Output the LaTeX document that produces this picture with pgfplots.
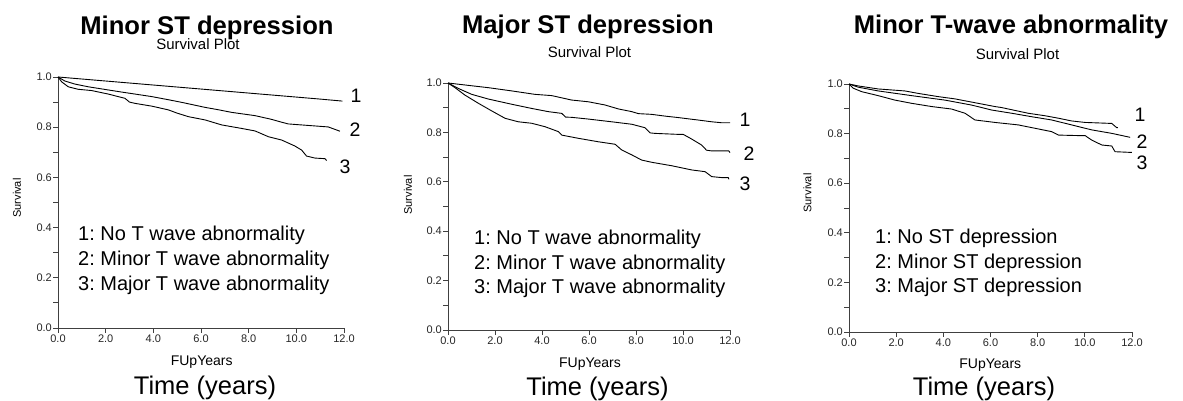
\documentclass[border=0pt]{standalone}
\usepackage{fontspec}
\setmainfont{Liberation Sans}
\usepackage{pgfplots}
\pgfplotsset{compat=1.18}

\pgfplotsset{
  survstyle/.style={
    scale only axis,
    anchor=south west,
    xmin=0, xmax=12, ymin=0, ymax=1,
    axis x line=bottom, axis y line=left,
    axis line style={-, line width=0.9bp, black!75},
    xtick={0,2,...,12},
    ytick={0,0.2,...,1.0},
    minor y tick num=1,
    tick align=outside,
    major tick length=5bp, minor tick length=5bp,
    tick style={line width=0.8bp, black!75},
    /pgf/number format/.cd, fixed, fixed zerofill, precision=1, assume math mode=true,
    /pgfplots/.cd,
    tick label style={font=\fontsize{11bp}{12bp}\selectfont, black!85},
    yticklabel style={inner sep=1bp},
    xticklabel style={inner sep=1bp, yshift=-1bp},
    clip=false,
  },
  km/.style={sharp plot, black, line width=0.9bp, line join=round, mark=none},
}

\newcommand{\titlefont}{\fontsize{25.6bp}{28bp}\selectfont\bfseries}
\newcommand{\subfont}{\fontsize{15bp}{17bp}\selectfont}
\newcommand{\legfont}{\fontsize{20bp}{22bp}\selectfont}
\newcommand{\numfont}{\fontsize{19.5bp}{22bp}\selectfont}
\newcommand{\smallfont}{\fontsize{11bp}{12bp}\selectfont}
\newcommand{\xfont}{\fontsize{14bp}{16bp}\selectfont}
\newcommand{\timefont}{\fontsize{25.5bp}{28bp}\selectfont}
\frenchspacing

\begin{document}
\begin{tikzpicture}
\useasboundingbox (0,0) rectangle (1183bp,401bp);

% ---------------- panel 1: Minor ST depression
\begin{axis}[survstyle, at={(58bp,73bp)}, width=286bp, height=251bp]
\addplot[km] coordinates {
 (0,1.000) (1.0,0.992) (2.0,0.984) (3.0,0.976) (4.0,0.968) (5.0,0.960)
 (6.0,0.952) (7.0,0.944) (8.0,0.936) (9.0,0.928) (10.0,0.920) (11.0,0.912) (11.93,0.904)};
\addplot[km] coordinates {
 (0,1.000) (0.29,0.984) (0.7,0.972) (1.27,0.961) (2.0,0.950) (2.67,0.940) (3.3,0.931)
 (3.93,0.922) (4.6,0.910) (5.19,0.899) (6.17,0.879) (6.7,0.870) (7.29,0.859)
 (8.27,0.846) (8.97,0.831) (9.3,0.822) (9.66,0.813) (10.5,0.807) (11.34,0.801)
 (11.6,0.792) (11.83,0.784)};
\addplot[km] coordinates {
 (0,1.000) (0.15,0.981) (0.43,0.961) (0.85,0.951) (1.41,0.946) (2.11,0.932)
 (2.81,0.915) (3.0,0.900) (3.23,0.895) (3.93,0.884) (4.63,0.869) (5.0,0.856) (5.47,0.842)
 (6.17,0.829) (6.87,0.809) (7.71,0.795) (8.27,0.785) (8.83,0.762) (9.38,0.749)
 (9.94,0.725) (10.22,0.709) (10.43,0.685) (10.78,0.677) (11.13,0.675) (11.2,0.675) (11.27,0.667)};
\end{axis}

% ---------------- panel 2: Major ST depression
\begin{axis}[survstyle, at={(448bp,71bp)}, width=282bp, height=247bp]
\addplot[km] coordinates {
 (0,1.000) (0.72,0.992) (1.72,0.981) (2.71,0.968) (3.70,0.954) (4.41,0.949)
 (5.26,0.931) (5.97,0.924) (6.68,0.911) (7.25,0.895) (7.82,0.884) (8.10,0.876)
 (8.67,0.873) (9.23,0.866) (9.80,0.860) (10.65,0.850) (11.22,0.843) (11.65,0.839) (12.0,0.839)};
\addplot[km] coordinates {
 (0,1.000) (0.44,0.978) (1.01,0.954) (1.72,0.935) (2.71,0.914) (3.56,0.897)
 (4.27,0.884) (4.84,0.877) (5.0,0.862) (5.26,0.861) (5.97,0.854) (6.96,0.843) (7.82,0.833)
 (8.38,0.819) (8.6,0.798) (8.81,0.796) (9.80,0.792) (10.01,0.792) (10.37,0.773) (10.79,0.749)
 (11.0,0.728) (11.22,0.725) (11.95,0.725) (12.0,0.718)};
\addplot[km] coordinates {
 (0,1.000) (0.30,0.981) (0.72,0.951) (1.29,0.918) (1.86,0.887) (2.43,0.857)
 (2.99,0.843) (3.56,0.837) (4.13,0.823) (4.70,0.803) (4.84,0.789) (5.55,0.776)
 (6.40,0.762) (7.11,0.752) (7.39,0.729) (7.82,0.709) (8.24,0.688) (8.67,0.679)
 (9.52,0.665) (10.37,0.648) (10.94,0.641) (11.22,0.621) (11.65,0.617) (11.93,0.617) (11.95,0.610)};
\end{axis}

% ---------------- panel 3: Minor T-wave abnormality
\begin{axis}[survstyle, at={(849bp,69bp)}, width=283bp, height=248bp]
\addplot[km] coordinates {
 (0,1.000) (0.40,0.992) (1.24,0.980) (2.37,0.972) (2.94,0.962) (3.79,0.949)
 (4.49,0.940) (5.48,0.922) (6.19,0.909) (6.47,0.905) (7.60,0.882) (8.31,0.872)
 (8.88,0.862) (9.44,0.851) (10.01,0.845) (11.14,0.841) (11.35,0.824) (11.40,0.824)};
\addplot[km] coordinates {
 (0,1.000) (0.40,0.987) (1.24,0.972) (2.66,0.953) (4.07,0.935) (5.20,0.915)
 (6.05,0.895) (6.90,0.882) (7.75,0.868) (8.59,0.855) (9.44,0.835) (10.29,0.815)
 (11.14,0.801) (11.92,0.785)};
\addplot[km] coordinates {
 (0,1.000) (0.18,0.983) (0.54,0.969) (1.24,0.953) (1.95,0.935) (2.66,0.922)
 (3.51,0.909) (4.35,0.899) (4.92,0.882) (5.34,0.855) (6.19,0.845) (7.18,0.835)
 (7.75,0.824) (8.59,0.808) (8.88,0.794) (9.72,0.792) (10.01,0.792) (10.29,0.774)
 (10.72,0.754) (11.14,0.750) (11.28,0.727) (11.99,0.724)};
\end{axis}

% ---------------- text
% titles
\node[anchor=base] at (207bp,366.7bp) {\titlefont Minor ST depression};
\node[anchor=base] at (588bp,367bp) {\titlefont Major ST depression};
\node[anchor=base] at (1011bp,367.7bp) {\titlefont Minor T-wave abnormality};
% subtitles
\node[anchor=base] at (198bp,351.7bp) {\subfont Survival Plot};
\node[anchor=base] at (589.5bp,343.7bp) {\subfont Survival Plot};
\node[anchor=base] at (1017.5bp,341.7bp) {\subfont Survival Plot};
% y labels
\node[rotate=90] at (17bp,203bp) {\smallfont Survival};
\node[rotate=90] at (408bp,206bp) {\smallfont Survival};
\node[rotate=90] at (807.5bp,208bp) {\smallfont Survival};
% x labels
\node[anchor=base] at (201.7bp,35.3bp) {\xfont FUpYears};
\node[anchor=base] at (590bp,33.3bp) {\xfont FUpYears};
\node[anchor=base] at (990.3bp,32.7bp) {\xfont FUpYears};
\node[anchor=base] at (205bp,6.7bp) {\timefont Time (years)};
\node[anchor=base] at (597.5bp,6bp) {\timefont Time (years)};
\node[anchor=base] at (984bp,6bp) {\timefont Time (years)};
% curve numbers
\node at (356bp,305bp) {\numfont 1};
\node at (355bp,271bp) {\numfont 2};
\node at (345bp,234bp) {\numfont 3};
\node at (745bp,281bp) {\numfont 1};
\node at (749bp,247bp) {\numfont 2};
\node at (745bp,217bp) {\numfont 3};
\node at (1140bp,286bp) {\numfont 1};
\node at (1142bp,259bp) {\numfont 2};
\node at (1142bp,238bp) {\numfont 3};
% legends
\node[anchor=base west, inner sep=0pt] at (78bp,160bp) {\legfont 1: No T wave abnormality};
\node[anchor=base west, inner sep=0pt] at (78bp,135bp) {\legfont 2: Minor T wave abnormality};
\node[anchor=base west, inner sep=0pt] at (78bp,110bp) {\legfont 3: Major T wave abnormality};
\node[anchor=base west, inner sep=0pt] at (474bp,156bp) {\legfont 1: No T wave abnormality};
\node[anchor=base west, inner sep=0pt] at (474bp,131.7bp) {\legfont 2: Minor T wave abnormality};
\node[anchor=base west, inner sep=0pt] at (474bp,107bp) {\legfont 3: Major T wave abnormality};
\node[anchor=base west, inner sep=0pt] at (875bp,157.7bp) {\legfont 1: No ST depression};
\node[anchor=base west, inner sep=0pt] at (875bp,132.7bp) {\legfont 2: Minor ST depression};
\node[anchor=base west, inner sep=0pt] at (875bp,108.3bp) {\legfont 3: Major ST depression};
\end{tikzpicture}
\end{document}
